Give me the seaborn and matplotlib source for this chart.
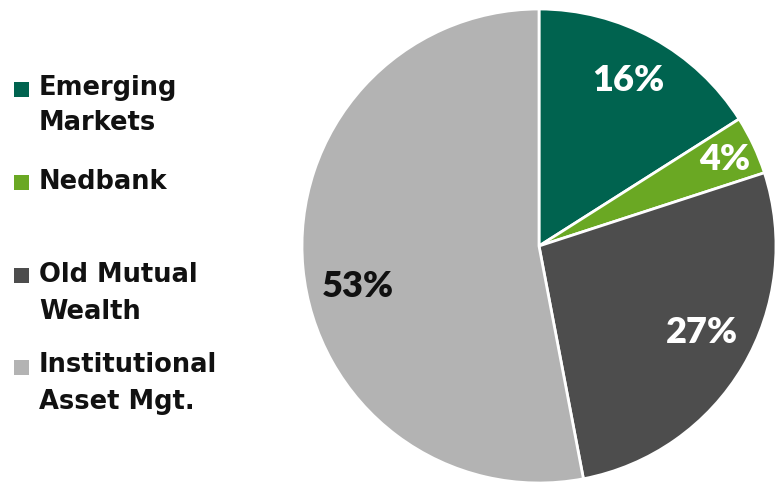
import matplotlib
matplotlib.use("Agg")
import matplotlib.pyplot as plt
import seaborn as sns
from matplotlib.patches import Rectangle

sns.set_theme(style="white")
plt.rcParams['font.family'] = ['Lato', 'DejaVu Sans']

categories = ["Emerging\nMarkets", "Nedbank", "Old Mutual\nWealth", "Institutional\nAsset Mgt."]
values = [16, 4, 27, 53]
pct_labels = ["16%", "4%", "27%", "53%"]
colors = ["#00634F", "#6AA823", "#4D4D4D", "#B3B3B3"]
label_colors = ["white", "white", "white", "#111111"]

W, H = 775, 483
fig = plt.figure(figsize=(W / 100, H / 100), dpi=100)
cx, cy, r = 539, 246, 237
ax = fig.add_axes([(cx - r) / W, (H - cy - r) / H, 2 * r / W, 2 * r / H])
ax.pie(values, colors=colors, startangle=90, counterclock=False, radius=1,
       wedgeprops=dict(edgecolor="white", linewidth=2))
ax.set_xlim(-1, 1)
ax.set_ylim(-1, 1)
ax.set_aspect("equal")
ax.axis("off")

label_pos = [(0.376, 0.700), (0.785, 0.363), (0.688, -0.363), (-0.764, -0.169)]
for (x, y), t, c in zip(label_pos, pct_labels, label_colors):
    ax.text(x, y, t, ha="center", va="center", fontsize=26, fontweight="heavy",
            color=c, family=["Lato", "DejaVu Sans"], clip_on=False)

# legend, drawn manually in pixel coordinates
marker_y = [89, 182, 275, 367]
text_y = [(88, 123), (182,), (275, 312), (365, 402)]
for cat, col, my, ty in zip(categories, colors, marker_y, text_y):
    fig.patches.append(Rectangle((14 / W, (H - my - 7.5) / H), 15 / W, 15 / H,
                                 transform=fig.transFigure, facecolor=col, edgecolor="none"))
    for line, yy in zip(cat.split("\n"), ty):
        fig.text(39 / W, (H - yy) / H, line, ha="left", va="center",
                 fontsize=18.5, fontweight="bold", color="#111111",
                 family=["DejaVu Sans"])

fig.savefig("out.png", dpi=100, facecolor="white")
